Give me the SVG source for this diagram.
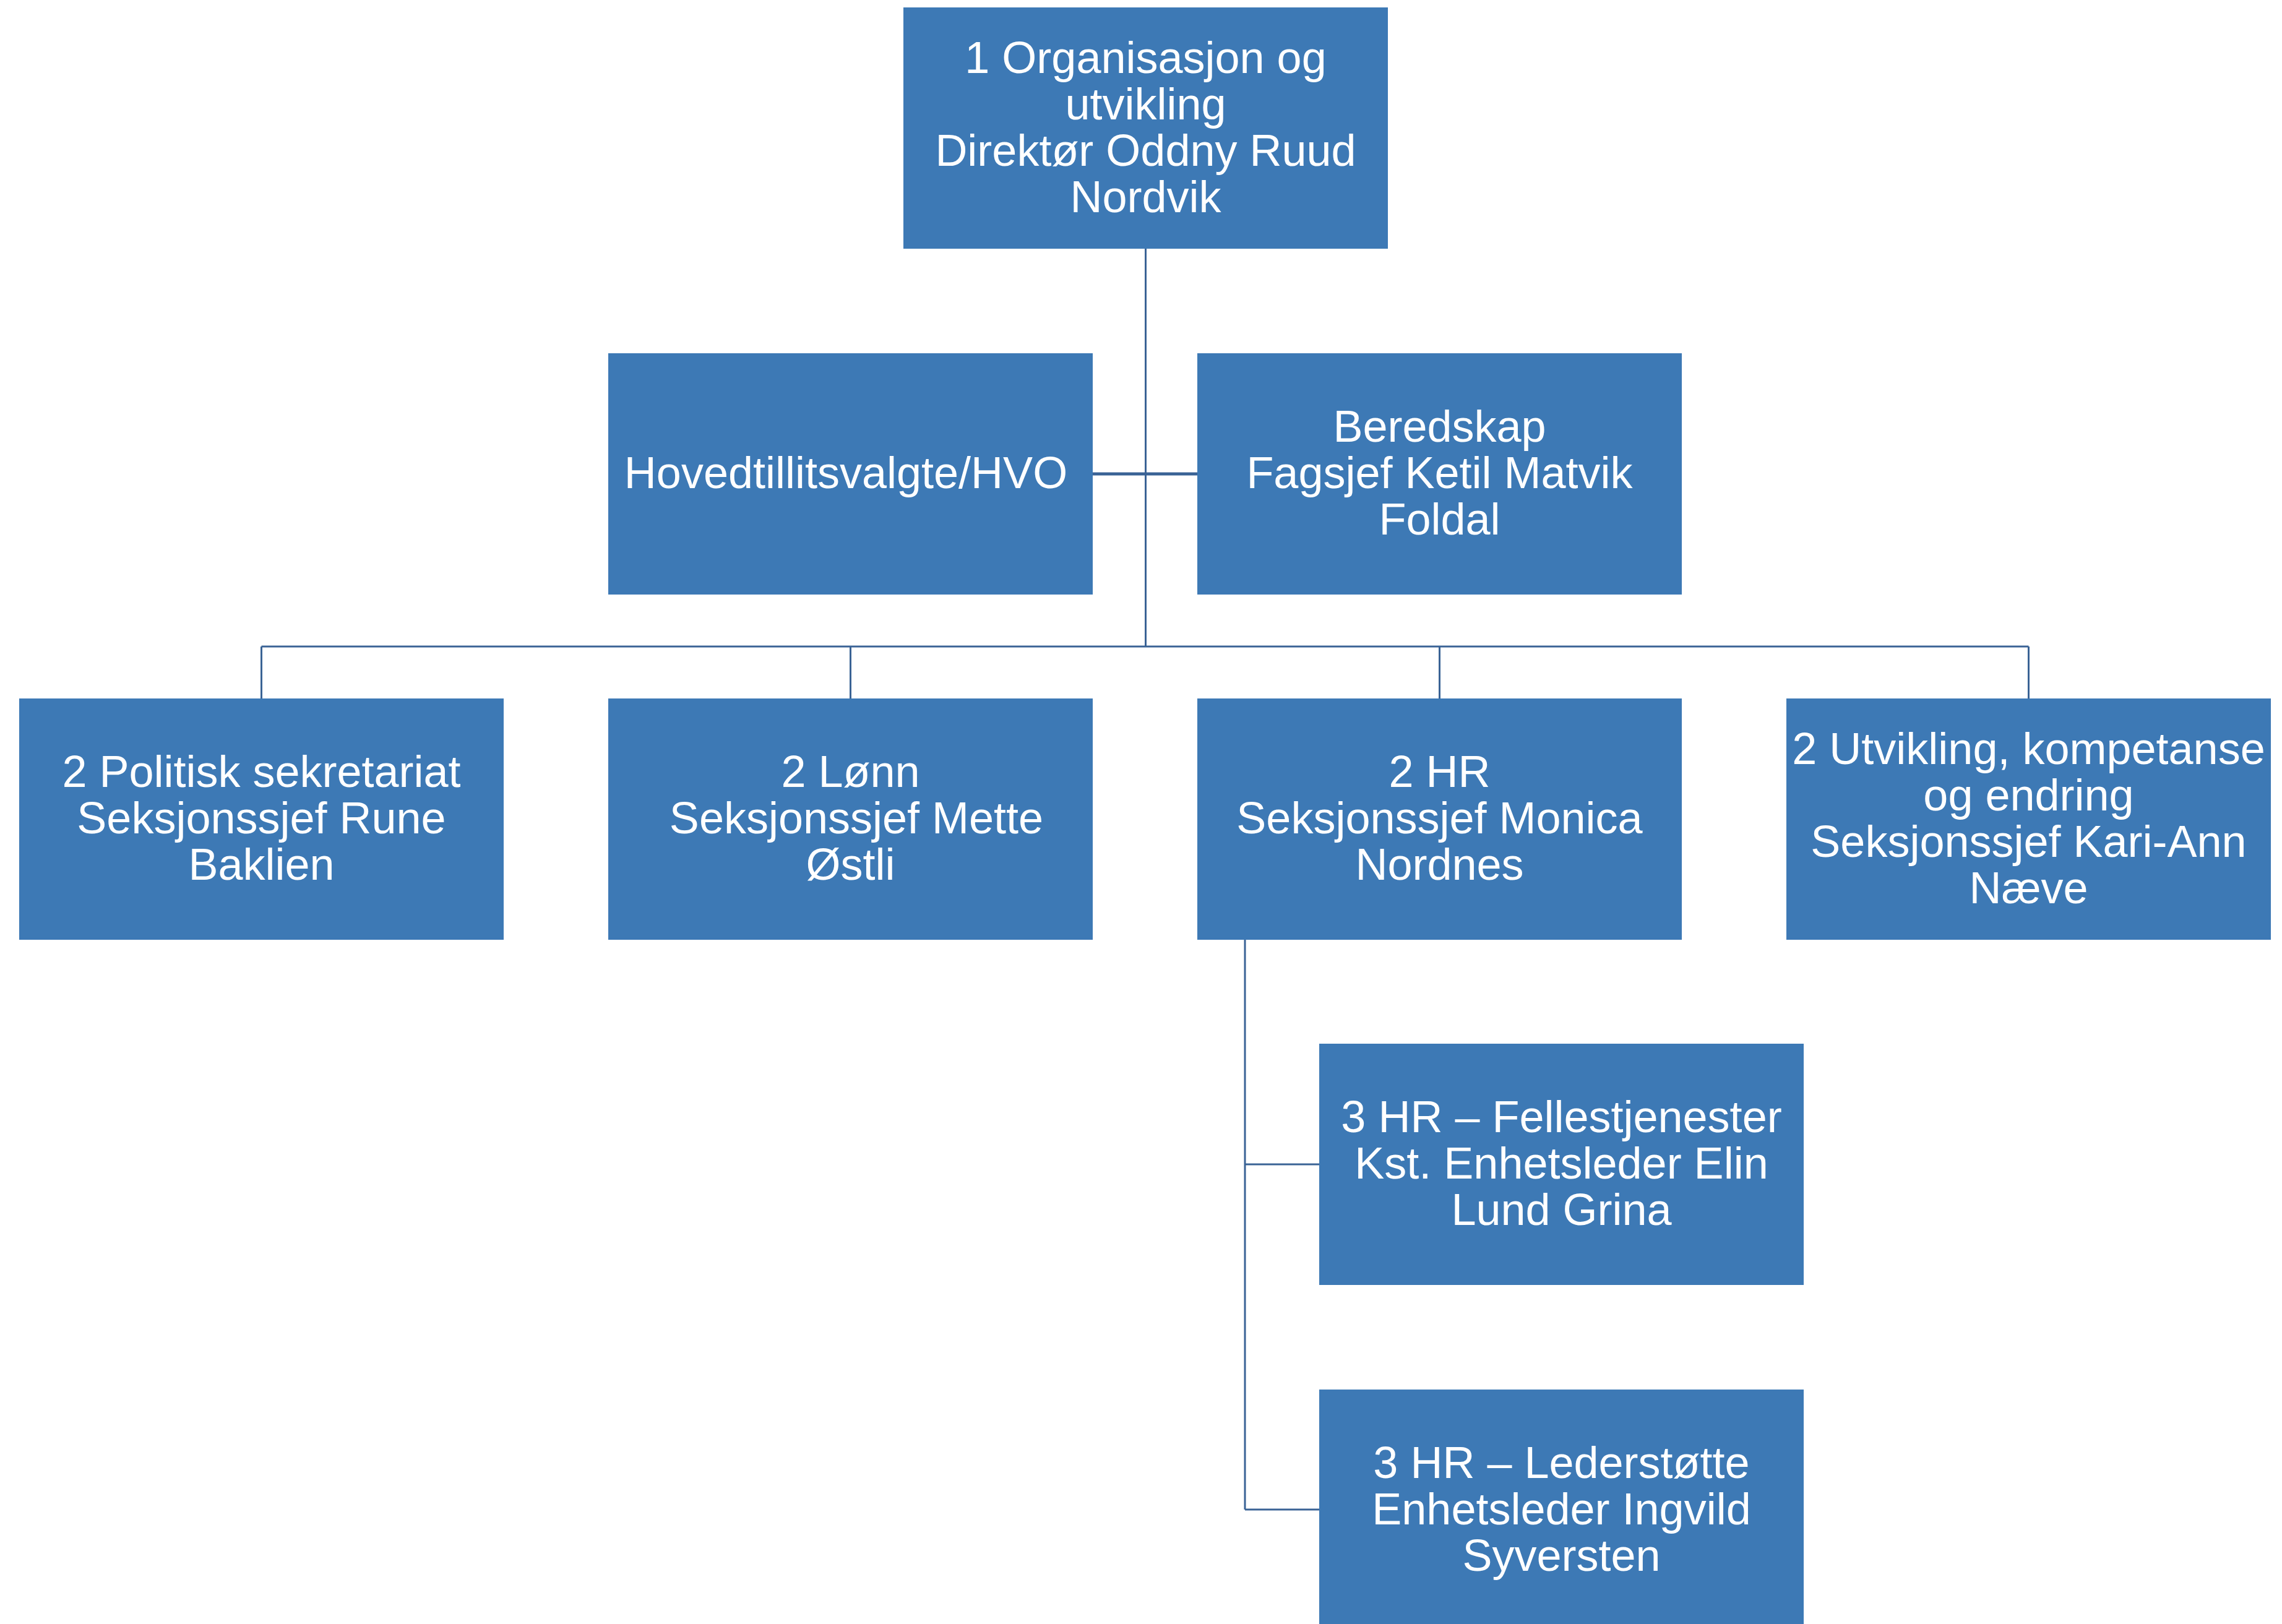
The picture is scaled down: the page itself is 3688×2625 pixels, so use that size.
<svg xmlns="http://www.w3.org/2000/svg" width="3688" height="2625" viewBox="0 0 3688 2625">
<style>
.box{fill:#3D79B5;}
.t{font-family:"Liberation Sans",Arial,sans-serif;font-size:72px;fill:#FFFFFF;text-anchor:middle;}
.c{fill:none;stroke:#3A6395;stroke-width:3;}
.c2{fill:none;stroke:#3A6395;stroke-width:5;}
</style>
<rect width="3688" height="2625" fill="#FFFFFF"/>
<g id="connectors">
<path class="c" d="M1851.5,402 V1045"/>
<path class="c2" d="M1766,766 H1935"/>
<path class="c" d="M422.5,1045 H3278.5"/>
<path class="c" d="M422.5,1045 V1129 M1374.5,1045 V1129 M2326.5,1045 V1129 M3278.5,1045 V1129"/>
<path class="c" d="M2012,1519 V2440 M2012,1882 H2132 M2012,2440 H2132"/>
</g>
<g id="n-top">
<rect class="box" x="1460" y="12" width="783" height="390"/>
<text class="t" x="1851.5" y="117.5">1 Organisasjon og</text>
<text class="t" x="1851.5" y="192.5">utvikling</text>
<text class="t" x="1851.5" y="267.5">Direktør Oddny Ruud</text>
<text class="t" x="1851.5" y="342.5">Nordvik</text>
</g>
<g id="n-hvo">
<rect class="box" x="983" y="571" width="783" height="390"/>
<text class="t" x="1367" y="789">Hovedtillitsvalgte/HVO</text>
</g>
<g id="n-beredskap">
<rect class="box" x="1935" y="571" width="783" height="390"/>
<text class="t" x="2326.5" y="714">Beredskap</text>
<text class="t" x="2326.5" y="789">Fagsjef Ketil Matvik</text>
<text class="t" x="2326.5" y="864">Foldal</text>
</g>
<g id="n-politisk">
<rect class="box" x="31" y="1129" width="783" height="390"/>
<text class="t" x="422.5" y="1272">2 Politisk sekretariat</text>
<text class="t" x="422.5" y="1347">Seksjonssjef Rune</text>
<text class="t" x="422.5" y="1422">Baklien</text>
</g>
<g id="n-lonn">
<rect class="box" x="983" y="1129" width="783" height="390"/>
<text class="t" x="1374.5" y="1272">2 Lønn</text>
<text class="t" x="1384" y="1347">Seksjonssjef Mette</text>
<text class="t" x="1374.5" y="1422">Østli</text>
</g>
<g id="n-hr">
<rect class="box" x="1935" y="1129" width="783" height="390"/>
<text class="t" x="2326.5" y="1272">2 HR</text>
<text class="t" x="2326.5" y="1347">Seksjonssjef Monica</text>
<text class="t" x="2326.5" y="1422">Nordnes</text>
</g>
<g id="n-utvikling">
<rect class="box" x="2887" y="1129" width="783" height="390"/>
<text class="t" x="3278.5" y="1234.5">2 Utvikling, kompetanse</text>
<text class="t" x="3278.5" y="1309.5">og endring</text>
<text class="t" x="3278.5" y="1384.5">Seksjonssjef Kari-Ann</text>
<text class="t" x="3278.5" y="1459.5">Næve</text>
</g>
<g id="n-fellestjenester">
<rect class="box" x="2132" y="1687" width="783" height="390"/>
<text class="t" x="2523.5" y="1830">3 HR – Fellestjenester</text>
<text class="t" x="2523.5" y="1905">Kst. Enhetsleder Elin</text>
<text class="t" x="2523.5" y="1980">Lund Grina</text>
</g>
<g id="n-lederstotte">
<rect class="box" x="2132" y="2246" width="783" height="390"/>
<text class="t" x="2523.5" y="2389">3 HR – Lederstøtte</text>
<text class="t" x="2523.5" y="2464">Enhetsleder Ingvild</text>
<text class="t" x="2523.5" y="2539">Syversten</text>
</g>
</svg>
